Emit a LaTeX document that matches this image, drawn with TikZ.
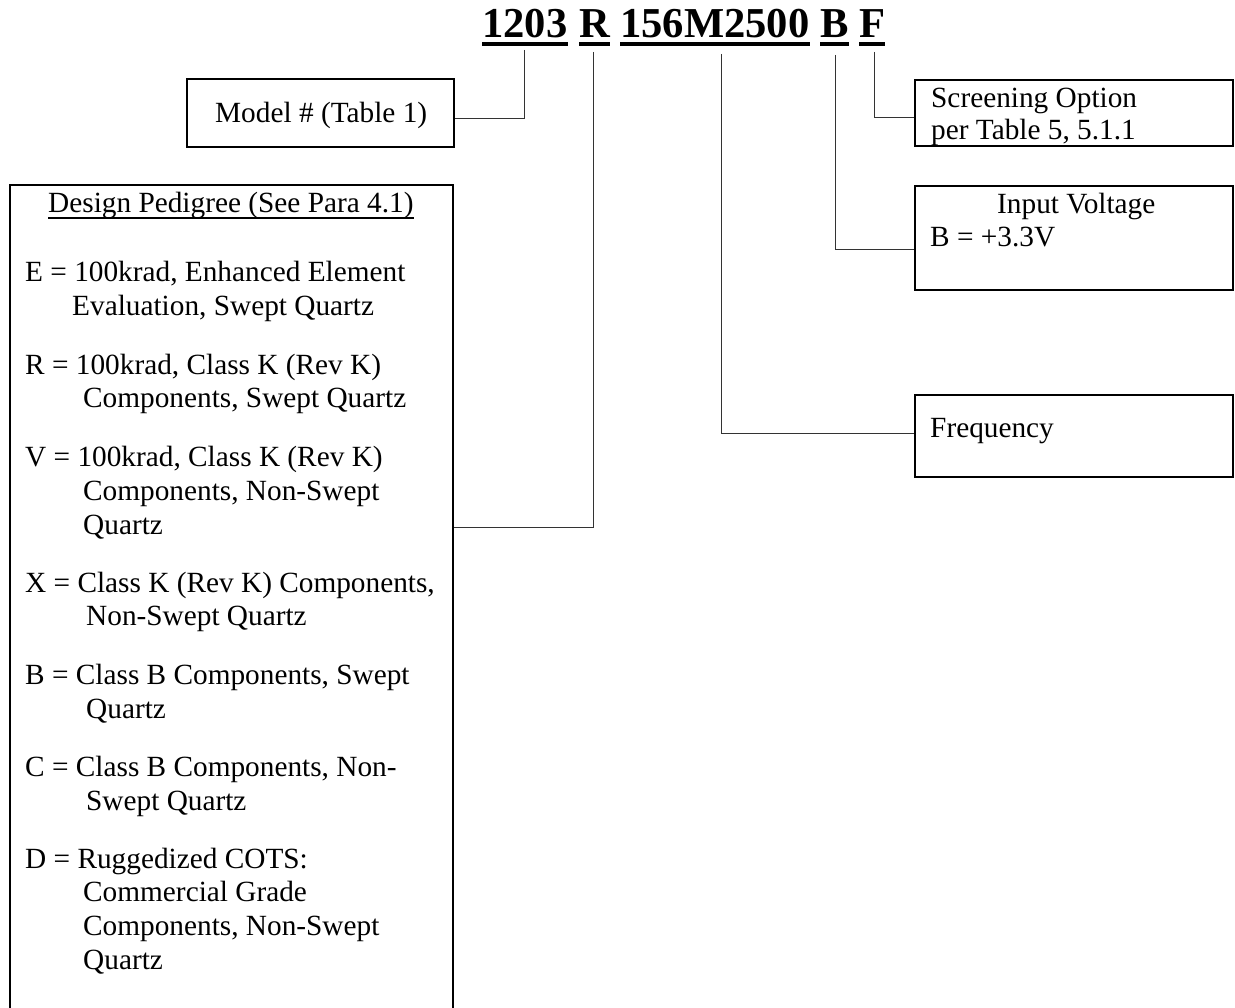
\documentclass[tikz,border=0pt]{standalone}
\usepackage{fontspec}
\setmainfont{Liberation Serif}
\begin{document}
\begin{tikzpicture}[x=1pt,y=-1pt,
  txt/.style={inner sep=0pt, anchor=base west, font=\fontsize{29.3pt}{34pt}\selectfont},
  ttl/.style={inner sep=0pt, anchor=base west, font=\fontsize{42.6pt}{48pt}\selectfont\bfseries},
  box/.style={draw, line width=2pt, inner sep=0pt},
  conn/.style={draw=black!80, line width=1pt},
  uline/.style={line width=4pt}]
\useasboundingbox (0,0) rectangle (1235,1008);

% title
\node[ttl] (t1) at (482,38) {1203};
\node[ttl] (t2) at (579,38) {R};
\node[ttl] (t3) at (620,38) {156M2500};
\node[ttl] (t4) at (820,38) {B};
\node[ttl] (t5) at (859,38) {F};
\foreach \n in {t1,t2,t3,t4,t5}
  \draw[uline] ([yshift=-6pt]\n.base west) -- ([yshift=-6pt]\n.base east);

% boxes
\node[box, minimum width=267pt, minimum height=68pt] (model) at (320.5,113) {};
\node[box, minimum width=318pt, minimum height=66pt] (scr) at (1074,113) {};
\node[box, minimum width=318pt, minimum height=104pt] (inp) at (1074,238) {};
\node[box, minimum width=318pt, minimum height=82pt] (freq) at (1074,436) {};
\node[box, minimum width=443pt, minimum height=830pt] (design) at (231.5,600) {};

% connector points
\coordinate (k1) at (524,50);
\coordinate (kR) at (593,52);
\coordinate (kM) at (721.5,54);
\coordinate (kB) at (835,55);
\coordinate (kF) at (874,52);
\coordinate (y1) at (0,119);
\coordinate (yR) at (0,527);
\coordinate (yM) at (0,433);
\coordinate (yB) at (0,250);
\coordinate (yF) at (0,118);

\draw[conn] (k1) |- (model.east |- y1);
\draw[conn] (kR) |- (design.east |- yR);
\draw[conn] (kM) |- (freq.west |- yM);
\draw[conn] (kB) |- (inp.west |- yB);
\draw[conn] (kF) |- (scr.west |- yF);

% texts in right and model boxes
\node[txt] (mt) at (215,123) {Model \# (Table 1)};
\node[txt] (s1) at (931,108) {Screening Option};
\node[txt] (s2) at (931,140) {per Table 5, 5.1.1};
\node[txt] (i1) at (997,214) {Input Voltage};
\node[txt] (i2) at (930,247) {B = +3.3V};
\node[txt] (f1) at (930,438) {Frequency};

% design pedigree
\node[txt] (hdr) at (48,213) {Design Pedigree (See Para 4.1)};
\draw[line width=1.5pt] ([yshift=-5pt]hdr.base west) -- ([yshift=-5pt]hdr.base east);

\node[txt] (e1) at (25,282) {E = 100krad, Enhanced Element};
\node[txt] (e2) at (72,316) {Evaluation, Swept Quartz};
\node[txt] (r1) at (25,374) {R = 100krad, Class K (Rev K)};
\node[txt] (r2) at (83,408) {Components, Swept Quartz};
\node[txt] (v1) at (25,466) {V = 100krad, Class K (Rev K)};
\node[txt] (v2) at (83,500) {Components, Non-Swept};
\node[txt] (v3) at (83,534) {Quartz};
\node[txt] (x1) at (25,592) {X = Class K (Rev K) Components,};
\node[txt] (x2) at (86,625) {Non-Swept Quartz};
\node[txt] (b1) at (25,684) {B = Class B Components, Swept};
\node[txt] (b2) at (86,718) {Quartz};
\node[txt] (c1) at (25,776) {C = Class B Components, Non-};
\node[txt] (c2) at (86,810) {Swept Quartz};
\node[txt] (d1) at (25,868) {D = Ruggedized COTS:};
\node[txt] (d2) at (83,901) {Commercial Grade};
\node[txt] (d3) at (83,935) {Components, Non-Swept};
\node[txt] (d4) at (83,969) {Quartz};
\end{tikzpicture}
\end{document}
